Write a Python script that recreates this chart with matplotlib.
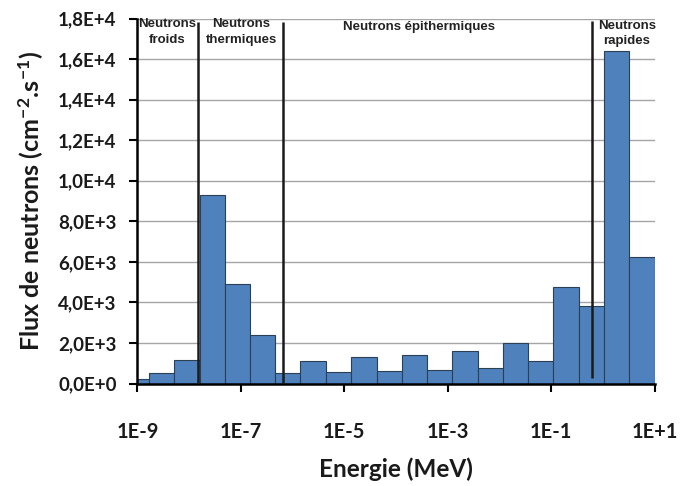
import matplotlib
matplotlib.use("Agg")
import matplotlib.pyplot as plt
from matplotlib.ticker import FixedLocator, FuncFormatter
import numpy as np

plt.rcParams["mathtext.fontset"] = "custom"
plt.rcParams["mathtext.rm"] = "Lato:bold"
plt.rcParams["mathtext.bf"] = "Lato:bold"
plt.rcParams["mathtext.it"] = "Lato:bold"
plt.rcParams["mathtext.default"] = "rm"

# energy bin edges (MeV) and flux per bin (cm-2.s-1)
bin_edges = [1e-9, 1.67e-9, 5.1e-9, 1.6e-8, 4.9e-8, 1.5e-7, 4.6e-7, 1.4e-6, 4.4e-6,
             1.36e-5, 4.2e-5, 1.3e-4, 4.0e-4, 1.23e-3, 3.8e-3, 1.17e-2, 3.6e-2,
             0.111, 0.34, 1.05, 3.24, 10.0]
flux = [200, 540, 1170, 9300, 4920, 2400, 500, 1130, 550, 1300, 600, 1410,
        680, 1600, 780, 2010, 1130, 4750, 3840, 16420, 6250]

# domain boundaries
boundaries = [1.5e-8, 6.6e-7, 0.63]
domain_names = ["Neutrons\nfroids", "Neutrons\nthermiques", "Neutrons épithermiques", "Neutrons\nrapides"]
domain_x = [3.7e-9, 1.02e-7, 2.75e-4, 2.9]
domain_y = [17330, 17330, 17580, 17260]

x_ticks = [1e-9, 1e-7, 1e-5, 1e-3, 1e-1, 1e1]
x_labels = ["1E-9", "1E-7", "1E-5", "1E-3", "1E-1", "1E+1"]
y_ticks = np.arange(0, 18001, 2000)


def sci_comma(v, pos):
    if v == 0:
        return "0,0E+0"
    e = int(np.floor(np.log10(v)))
    return ("%.1fE+%d" % (v / 10 ** e, e)).replace(".", ",")


fig = plt.figure(figsize=(6.81, 4.86), dpi=100)
ax = fig.add_axes([0.2019, 0.2109, 0.7592, 0.751])

edges = np.array(bin_edges)
ax.bar(edges[:-1], flux, width=np.diff(edges), align="edge",
       color="#4f81bd", edgecolor="#2b3f55", linewidth=0.8, zorder=2)

ax.vlines(boundaries[:2], 0, 17850, color="#1a1a1a", linewidth=1.8, zorder=3)
ax.vlines(boundaries[2], 250, 17900, color="#1a1a1a", linewidth=1.8, zorder=3)

for name, xx, yy in zip(domain_names, domain_x, domain_y):
    ax.text(xx, yy, name, ha="center", va="center", fontsize=9.5, fontweight="bold",
            family="Liberation Sans", color="#222222", linespacing=1.4, zorder=4)

ax.set_xscale("log")
ax.set_xlim(1e-9, 10)
ax.set_ylim(0, 18000)
ax.xaxis.set_major_locator(FixedLocator(x_ticks))
ax.xaxis.set_minor_locator(FixedLocator([]))
ax.set_xticks(x_ticks)
ax.set_xticklabels(x_labels)
ax.set_yticks(y_ticks)
ax.yaxis.set_major_formatter(FuncFormatter(sci_comma))

ax.grid(axis="y", color="#a6a6a6", linewidth=1.0, zorder=0)
ax.set_axisbelow(True)
for s in ["top", "right"]:
    ax.spines[s].set_visible(False)
for s in ["left", "bottom"]:
    ax.spines[s].set_linewidth(1.8)
    ax.spines[s].set_color("black")

ax.tick_params(axis="y", direction="out", length=6, width=1.5, pad=9)
ax.tick_params(axis="x", direction="out", length=6, width=1.5, pad=22)
for lab in ax.get_xticklabels():
    lab.set_fontfamily("Lato")
    lab.set_fontweight("bold")
    lab.set_fontsize(14.5)
    lab.set_color("#1a1a1a")
for lab in ax.get_yticklabels():
    lab.set_fontfamily("Lato")
    lab.set_fontweight("bold")
    lab.set_fontsize(13.5)
    lab.set_color("#1a1a1a")

ax.set_xlabel("Energie (MeV)", fontsize=17.5, fontweight="bold", family="Lato", color="#1a1a1a", labelpad=11)
ax.set_ylabel("Flux de neutrons (cm$^{-2}$.s$^{-1}$)", fontsize=18,
              fontweight="bold", family="Lato", color="#1a1a1a", labelpad=9)

fig.savefig("out.png", dpi=100)
